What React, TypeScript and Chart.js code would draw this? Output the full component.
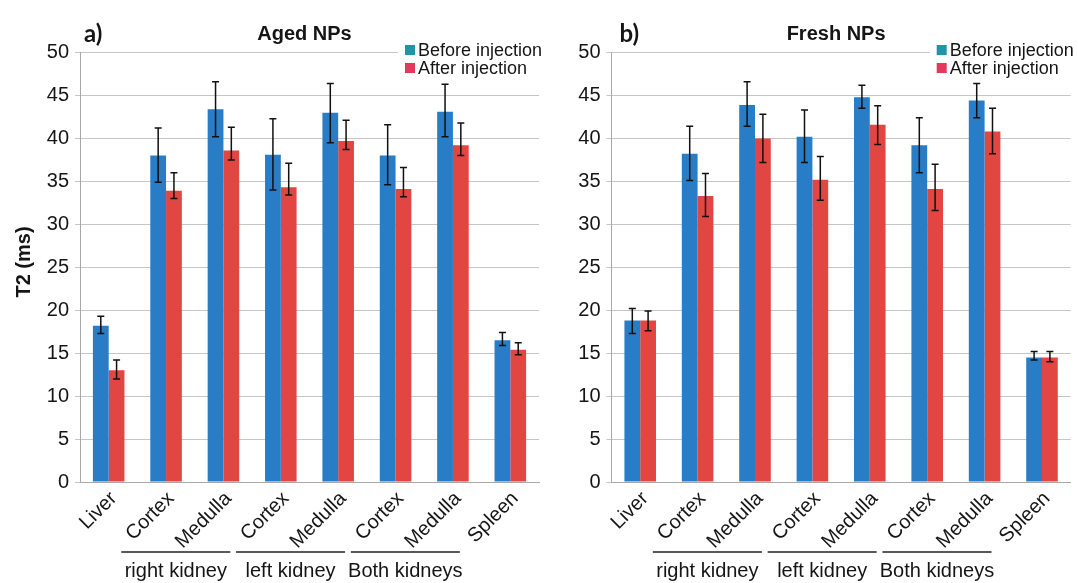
import React, { useEffect, useRef } from 'react';
import { Chart, registerables } from 'chart.js';
Chart.register(...registerables);

// ---------- data ----------
const categories = ['Liver', 'Cortex', 'Medulla', 'Cortex', 'Medulla', 'Cortex', 'Medulla', 'Spleen'];
const groupLabels = ['right kidney', 'left kidney', 'Both kidneys'];
const groupStart = [1, 3, 5];
const yTicks = [0, 5, 10, 15, 20, 25, 30, 35, 40, 45, 50];
const seriesNames = ['Before injection', 'After injection'];

const agedBefore = [18.2, 38.0, 43.4, 38.1, 43.0, 38.0, 43.1, 16.5];
const agedBeforeHigh = [19.3, 41.2, 46.6, 42.3, 46.4, 41.6, 46.3, 17.4];
const agedBeforeLow = [17.3, 34.9, 40.2, 34.0, 39.5, 34.6, 40.2, 15.9];
const agedAfter = [13.0, 33.9, 38.6, 34.3, 39.7, 34.1, 39.2, 15.4];
const agedAfterHigh = [14.2, 36.0, 41.3, 37.1, 42.1, 36.6, 41.8, 16.2];
const agedAfterLow = [12.0, 33.0, 37.5, 33.4, 38.7, 33.2, 38.0, 14.8];

const freshBefore = [18.8, 38.2, 43.9, 40.2, 44.8, 39.2, 44.4, 14.5];
const freshBeforeHigh = [20.2, 41.4, 46.6, 43.3, 46.2, 42.4, 46.4, 15.2];
const freshBeforeLow = [17.3, 35.1, 41.4, 37.2, 43.5, 36.0, 42.4, 14.2];
const freshAfter = [18.8, 33.3, 40.0, 35.2, 41.6, 34.1, 40.8, 14.5];
const freshAfterHigh = [19.9, 35.9, 42.8, 37.9, 43.8, 37.0, 43.5, 15.2];
const freshAfterLow = [17.6, 30.9, 37.2, 32.8, 39.3, 31.6, 38.2, 14.0];

// ---------- styles ----------
const BLUE = 'rgb(40,125,198)';
const RED = 'rgb(226,70,66)';
const LEGEND_BLUE = 'rgb(30,150,165)';
const LEGEND_RED = 'rgb(226,58,92)';
const FONT = "'Liberation Sans', Arial, sans-serif";
const TEXT = '#151515';

const errorBarPlugin = {
  id: 'errorBars',
  afterDatasetsDraw(chart: any) {
    const ctx = chart.ctx;
    const ys = chart.scales.y;
    chart.data.datasets.forEach((ds: any, di: number) => {
      const meta = chart.getDatasetMeta(di);
      meta.data.forEach((bar: any, i: number) => {
        const x = bar.x;
        const yh = ys.getPixelForValue(ds.errHigh[i]);
        const yl = ys.getPixelForValue(ds.errLow[i]);
        ctx.save();
        ctx.strokeStyle = '#111';
        ctx.lineWidth = 1.5;
        ctx.beginPath();
        ctx.moveTo(x, yh);
        ctx.lineTo(x, yl);
        ctx.moveTo(x - 3.5, yh);
        ctx.lineTo(x + 3.5, yh);
        ctx.moveTo(x - 3.5, yl);
        ctx.lineTo(x + 3.5, yl);
        ctx.stroke();
        ctx.restore();
      });
    });
  },
};

const decorPlugin = {
  id: 'decor',
  afterDraw(chart: any, _args: any, opts: any) {
    const { ctx, chartArea, scales } = chart;
    const xs = scales.x;
    ctx.save();
    // title
    ctx.fillStyle = TEXT;
    ctx.font = `bold 20px ${FONT}`;
    ctx.textAlign = 'center';
    ctx.textBaseline = 'alphabetic';
    ctx.fillText(opts.title, (chartArea.left + chartArea.right) / 2 - 5, 39.5);
    // panel letter
    ctx.font = `bold 24px Lato, 'Open Sans', sans-serif`;
    ctx.textAlign = 'left';
    ctx.fillText(opts.letter, chartArea.left + opts.letterDx, 42);
    // legend
    const tx = chartArea.right - 121;
    ctx.fillStyle = '#ffffff';
    ctx.fillRect(tx - 20, 41, chart.width - (tx - 20), 36);
    chart.data.datasets.forEach((ds: any, i: number) => {
      const cy = 50 + i * 18;
      ctx.fillStyle = ds.legendColor;
      ctx.fillRect(tx - 13, cy - 5, 10, 10);
      ctx.fillStyle = TEXT;
      ctx.font = `18px ${FONT}`;
      ctx.textAlign = 'left';
      ctx.textBaseline = 'middle';
      ctx.fillText(ds.label, tx, cy + 1);
    });
    // group brackets
    const step = xs.getPixelForValue(1) - xs.getPixelForValue(0);
    groupLabels.forEach((g, k) => {
      const s = groupStart[k];
      const x0 = xs.getPixelForValue(s) - 0.78 * step;
      const x1 = xs.getPixelForValue(s + 1) + 0.12 * step;
      const ly = chartArea.bottom + 70;
      ctx.strokeStyle = '#222';
      ctx.lineWidth = 1.3;
      ctx.beginPath();
      ctx.moveTo(x0, ly);
      ctx.lineTo(x1, ly);
      ctx.stroke();
      ctx.fillStyle = TEXT;
      ctx.font = `20px ${FONT}`;
      ctx.textAlign = 'center';
      ctx.textBaseline = 'alphabetic';
      ctx.fillText(g, (x0 + x1) / 2, chartArea.bottom + 95);
    });
    // y title
    if (opts.yTitle) {
      ctx.translate(24, 262);
      ctx.rotate(-Math.PI / 2);
      ctx.font = `bold 20px ${FONT}`;
      ctx.textAlign = 'center';
      ctx.textBaseline = 'middle';
      ctx.fillStyle = TEXT;
      ctx.fillText(opts.yTitle, 0, 0);
    }
    ctx.restore();
  },
};

type PanelCfg = {
  left: number;
  width: number;
  axisWidth: number;
  padRight: number;
  title: string;
  letter: string;
  letterDx: number;
  yTitle: string;
  before: number[];
  beforeHigh: number[];
  beforeLow: number[];
  after: number[];
  afterHigh: number[];
  afterLow: number[];
};

function Panel({ cfg }: { cfg: PanelCfg }) {
  const ref = useRef<HTMLCanvasElement | null>(null);
  useEffect(() => {
    if (!ref.current) return;
    const chart = new Chart(ref.current, {
      type: 'bar',
      data: {
        labels: categories,
        datasets: [
          {
            label: seriesNames[0],
            data: cfg.before,
            backgroundColor: BLUE,
            errHigh: cfg.beforeHigh,
            errLow: cfg.beforeLow,
            legendColor: LEGEND_BLUE,
          } as any,
          {
            label: seriesNames[1],
            data: cfg.after,
            backgroundColor: RED,
            errHigh: cfg.afterHigh,
            errLow: cfg.afterLow,
            legendColor: LEGEND_RED,
          } as any,
        ],
      },
      options: {
        responsive: false,
        animation: false,
        devicePixelRatio: 1,
        layout: { padding: { top: 52.5, right: cfg.padRight, bottom: 0, left: 0 } },
        datasets: { bar: { categoryPercentage: 0.55, barPercentage: 1 } },
        plugins: {
          legend: { display: false },
          tooltip: { enabled: false },
          decor: { title: cfg.title, letter: cfg.letter, letterDx: cfg.letterDx, yTitle: cfg.yTitle },
        } as any,
        scales: {
          x: {
            grid: { display: false },
            border: { display: true, color: '#a8a8a8', width: 1 },
            ticks: {
              autoSkip: false,
              minRotation: 45,
              maxRotation: 45,
              color: TEXT,
              font: { family: FONT, size: 20 },
              padding: -3,
              labelOffset: 5,
            },
            afterFit: (s: any) => {
              s.height = 101;
            },
          },
          y: {
            min: 0,
            max: 50,
            afterBuildTicks: (s: any) => {
              s.ticks = yTicks.map((v) => ({ value: v }));
            },
            grid: { color: '#c6c6c6', lineWidth: 1, tickLength: 5, drawTicks: true },
            border: { display: true, color: '#a8a8a8', width: 1 },
            ticks: {
              color: TEXT,
              font: { family: FONT, size: 20 },
              padding: 6,
            },
            afterFit: (s: any) => {
              s.width = cfg.axisWidth;
            },
          },
        },
      },
      plugins: [errorBarPlugin, decorPlugin],
    } as any);
    return () => chart.destroy();
  }, []);
  return (
    <canvas
      ref={ref}
      width={cfg.width}
      height={583}
      style={{ position: 'absolute', left: cfg.left, top: 0, width: cfg.width, height: 583 }}
    />
  );
}

const panelA: PanelCfg = {
  left: 0,
  width: 545,
  axisWidth: 80,
  padRight: 6,
  title: 'Aged NPs',
  letter: 'a)',
  letterDx: 4,
  yTitle: 'T2 (ms)',
  before: agedBefore,
  beforeHigh: agedBeforeHigh,
  beforeLow: agedBeforeLow,
  after: agedAfter,
  afterHigh: agedAfterHigh,
  afterLow: agedAfterLow,
};

const panelB: PanelCfg = {
  left: 540,
  width: 538,
  axisWidth: 71.5,
  padRight: 7.3,
  title: 'Fresh NPs',
  letter: 'b)',
  letterDx: 8,
  yTitle: '',
  before: freshBefore,
  beforeHigh: freshBeforeHigh,
  beforeLow: freshBeforeLow,
  after: freshAfter,
  afterHigh: freshAfterHigh,
  afterLow: freshAfterLow,
};

export default function App() {
  return (
    <div style={{ position: 'absolute', left: 0, top: 0, width: 1078, height: 583, background: '#fff', overflow: 'hidden' }}>
      <Panel cfg={panelA} />
      <Panel cfg={panelB} />
    </div>
  );
}
